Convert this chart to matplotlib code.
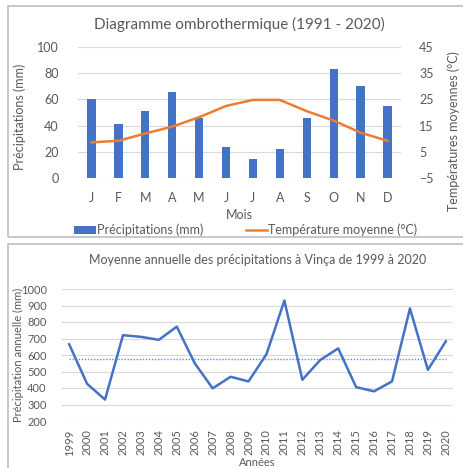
import numpy as np
import matplotlib
matplotlib.use("Agg")
from matplotlib import pyplot as plt
from matplotlib.patches import Rectangle

plt.rcParams["font.family"] = ["Lato", "DejaVu Sans"]

# monthly climate normals 1991-2020
months = ["J", "F", "M", "A", "M", "J", "J", "A", "S", "O", "N", "D"]
precip = [60, 41, 51, 66, 46, 23.5, 14.5, 22.5, 46, 83, 70, 55]
temp = [8.6, 9.2, 12.0, 14.6, 18.2, 22.5, 24.8, 24.8, 20.5, 16.9, 12.3, 9.2]

# yearly totals
years = list(range(1999, 2021))
annual = [665, 425, 330, 720, 710, 692, 772, 550, 398, 468, 440,
          605, 930, 450, 570, 640, 405, 380, 440, 882, 510, 683]

gray = "#595959"
grid = "#d9d9d9"
blue = "#4472C4"
orange = "#ED7D31"

W, H = 464, 468
fig = plt.figure(figsize=(W / 100, H / 100), dpi=100)


def box(x0, y0, x1, y1):
    # frame in pixel coords (top-left origin)
    fig.patches.append(Rectangle((x0 / W, 1 - y1 / H), (x1 - x0) / W, (y1 - y0) / H,
                                 transform=fig.transFigure, fill=False,
                                 edgecolor="#bfbfbf", linewidth=1.2))


def axes_px(x0, y0, x1, y1):
    return fig.add_axes([x0 / W, 1 - y1 / H, (x1 - x0) / W, (y1 - y0) / H])


def style(ax, fs):
    for s in ax.spines.values():
        s.set_visible(False)
    ax.tick_params(length=0, colors=gray, labelsize=fs)
    ax.grid(axis="y", color=grid, linewidth=0.8)
    ax.set_axisbelow(True)


box(8, 6, 470, 237)
box(8, 244, 470, 475)

# --- top: ombrothermic diagram
ax = axes_px(78, 47, 401, 178)
style(ax, 9)
x = np.arange(len(months))
bars = ax.bar(x, precip, width=0.31, color=blue, label="Précipitations (mm)")
ax.set_ylim(0, 100)
ax.set_yticks(range(0, 101, 20))
ax.set_xlim(-0.5, 11.5)
ax.set_xticks(x)
ax.set_xticklabels(months)
ax.tick_params(axis="x", pad=10)
ax.tick_params(axis="y", pad=14)
ax.set_xlabel("Mois", color=gray, fontsize=9, labelpad=4)
ax.set_ylabel("Précipitations (mm)", color=gray, fontsize=9)
ax.yaxis.set_label_coords(-52 / 323, 0.47)
ax.set_title("Diagramme ombrothermique (1991 - 2020)", color=gray, fontsize=11, pad=13)

ax2 = ax.twinx()
for s in ax2.spines.values():
    s.set_visible(False)
ax2.tick_params(length=0, colors=gray, labelsize=9, pad=13)
line, = ax2.plot(x, temp, color=orange, linewidth=1.8, label="Température moyenne (°C)")
ax2.set_ylim(-5, 45)
ax2.set_yticks(range(-5, 46, 10))
ax2.set_ylabel("Températures moyennes (°C)", color=gray, fontsize=9)
ax2.yaxis.set_label_coords(1 + 46 / 323, 0.36)

fig.legend([bars, line], [bars.get_label(), line.get_label()],
           loc="center", bbox_to_anchor=(246 / W, 1 - 230 / H), ncol=2,
           frameon=False, fontsize=9, labelcolor=gray, handlelength=1.7,
           handletextpad=0.1, columnspacing=3.4, borderpad=0)

# --- bottom: annual precipitation
bx = axes_px(62, 289, 453, 421)
style(bx, 8)
bx.plot(years, annual, color=blue, linewidth=1.8)
mean = np.mean(annual)
bx.plot(years, [mean] * len(years), color=blue, linewidth=1, alpha=0.8,
        linestyle=(0, (1, 1.2)))
bx.set_ylim(200, 1000)
bx.set_yticks(range(200, 1001, 100))
bx.set_xlim(1998.6, 2020.4)
bx.set_xticks(years)
bx.set_xticklabels([str(y) for y in years], rotation=90, fontsize=8)
bx.tick_params(axis="x", pad=6)
bx.tick_params(axis="y", pad=11)
bx.set_xlabel("Années", color=gray, fontsize=8, labelpad=1)
bx.set_ylabel("Précipitation annuelle (mm)", color=gray, fontsize=8)
bx.yaxis.set_label_coords(-38 / 391, 0.5)
bx.set_title("Moyenne annuelle des précipitations à Vinça de 1999 à 2020",
             color=gray, fontsize=9, pad=18)

fig.savefig("out.png", dpi=100)
